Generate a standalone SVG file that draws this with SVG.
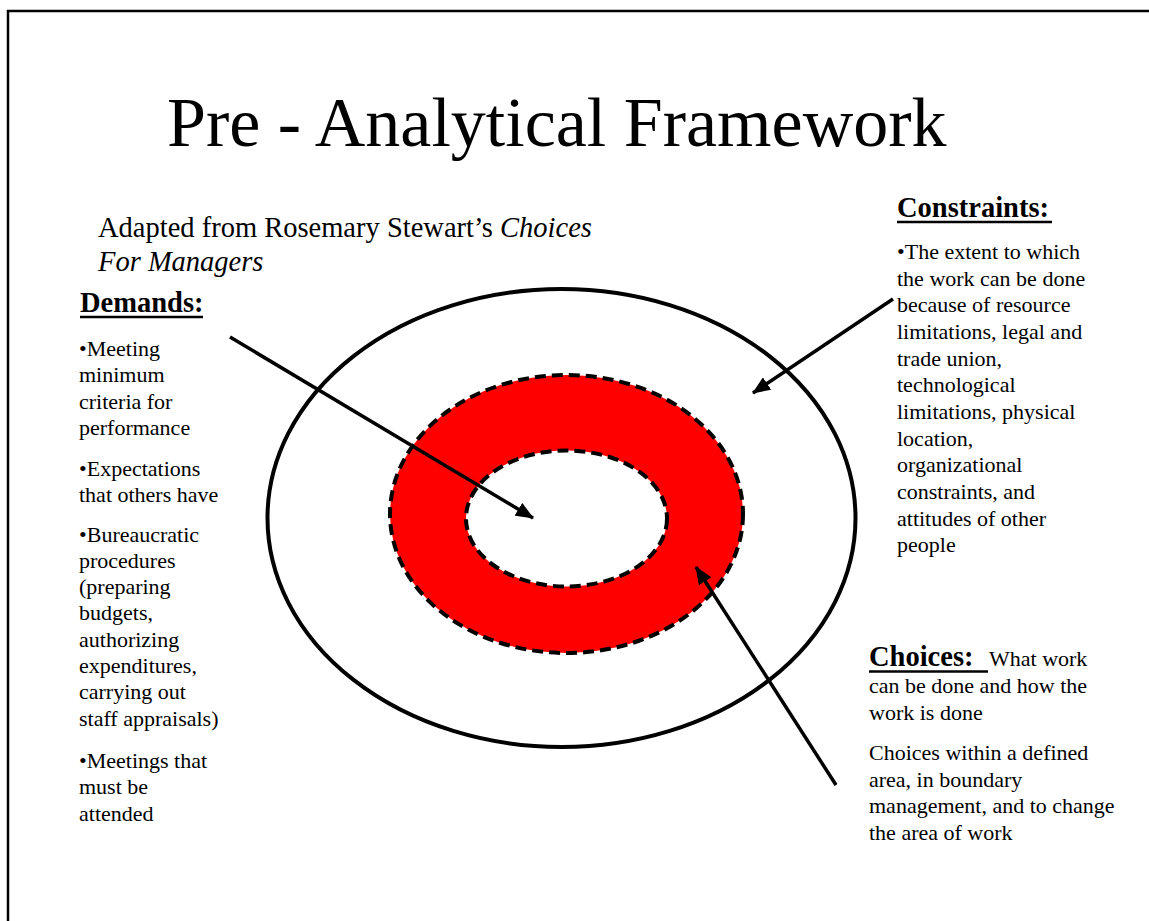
<svg xmlns="http://www.w3.org/2000/svg" width="1149" height="921" viewBox="0 0 1149 921">
<style>
  text { font-family: "Liberation Serif", "Times New Roman", serif; fill: #000; }
  .title { font-size: 70px; }
  .sub { font-size: 28.5px; }
  .head { font-size: 28.5px; font-weight: bold; }
  .body { font-size: 22px; }
  .ul { stroke: #000; stroke-width: 2.5; }
  .conn { stroke: #000; stroke-width: 3.5; fill: none; marker-end: url(#ah); }
  .dash { stroke: #000; stroke-width: 4; stroke-dasharray: 11 6; }
</style>
<defs>
  <marker id="ah" viewBox="0 0 18 15" refX="17" refY="7.5" markerWidth="18" markerHeight="15" markerUnits="userSpaceOnUse" orient="auto">
    <path d="M0,0 L18,7.5 L0,15 Z" fill="#000"/>
  </marker>
</defs>
<rect x="0" y="0" width="1149" height="921" fill="#fff"/>
<path d="M8,925 L8,11 L1155,11" fill="none" stroke="#000" stroke-width="2.5"/>

<g id="title">
  <text class="title" x="167" y="146">Pre - Analytical Framework</text>
</g>

<g id="subtitle">
  <text class="sub" x="98" y="237">Adapted from Rosemary Stewart’s <tspan font-style="italic">Choices</tspan></text>
  <text class="sub" x="98" y="271" font-style="italic">For Managers</text>
</g>

<g id="target">
  <ellipse cx="561.5" cy="518" rx="294" ry="229" fill="none" stroke="#000" stroke-width="4"/>
  <ellipse cx="566.5" cy="514" rx="176.5" ry="139" fill="#ff0000" class="dash"/>
  <ellipse cx="566.5" cy="518.5" rx="100.5" ry="68" fill="#fff" class="dash"/>
</g>

<g id="demands">
  <text class="head" x="80" y="312">Demands:</text>
  <line class="ul" x1="80" y1="317" x2="203" y2="317"/>
  <text class="body" x="79" y="356">•Meeting</text>
  <text class="body" x="79" y="382.3">minimum</text>
  <text class="body" x="79" y="408.6">criteria for</text>
  <text class="body" x="79" y="435">performance</text>
  <text class="body" x="79" y="475.5">•Expectations</text>
  <text class="body" x="79" y="502">that others have</text>
  <text class="body" x="79" y="541.5">•Bureaucratic</text>
  <text class="body" x="79" y="567.8">procedures</text>
  <text class="body" x="79" y="594.1">(preparing</text>
  <text class="body" x="79" y="620.4">budgets,</text>
  <text class="body" x="79" y="646.7">authorizing</text>
  <text class="body" x="79" y="673">expenditures,</text>
  <text class="body" x="79" y="699.3">carrying out</text>
  <text class="body" x="79" y="725.6">staff appraisals)</text>
  <text class="body" x="79" y="768">•Meetings that</text>
  <text class="body" x="79" y="794.3">must be</text>
  <text class="body" x="79" y="820.6">attended</text>
</g>

<g id="constraints">
  <text class="head" x="897" y="217">Constraints:</text>
  <line class="ul" x1="897" y1="222" x2="1052" y2="222"/>
  <text class="body" x="897" y="259">•The extent to which</text>
  <text class="body" x="897" y="285.7">the work can be done</text>
  <text class="body" x="897" y="312.3">because of  resource</text>
  <text class="body" x="897" y="339">limitations, legal and</text>
  <text class="body" x="897" y="365.7">trade union,</text>
  <text class="body" x="897" y="392.3">technological</text>
  <text class="body" x="897" y="419">limitations, physical</text>
  <text class="body" x="897" y="445.7">location,</text>
  <text class="body" x="897" y="472.3">organizational</text>
  <text class="body" x="897" y="499">constraints, and</text>
  <text class="body" x="897" y="525.7">attitudes of other</text>
  <text class="body" x="897" y="552.3">people</text>
</g>

<g id="choices">
  <text class="head" x="869" y="666">Choices:</text>
  <line class="ul" x1="869" y1="671.5" x2="988" y2="671.5"/>
  <text class="body" x="989" y="666">What work</text>
  <text class="body" x="869" y="693">can be done and how the</text>
  <text class="body" x="869" y="719.7">work is done</text>
  <text class="body" x="869" y="760">Choices within a defined</text>
  <text class="body" x="869" y="786.7">area, in boundary</text>
  <text class="body" x="869" y="813.3">management, and to change</text>
  <text class="body" x="869" y="840">the area of work</text>
</g>

<g id="connectors">
  <line class="conn" x1="230" y1="337" x2="533" y2="518"/>
  <line class="conn" x1="893" y1="299" x2="753" y2="393"/>
  <line class="conn" x1="836" y1="785" x2="696" y2="567"/>
</g>
</svg>
